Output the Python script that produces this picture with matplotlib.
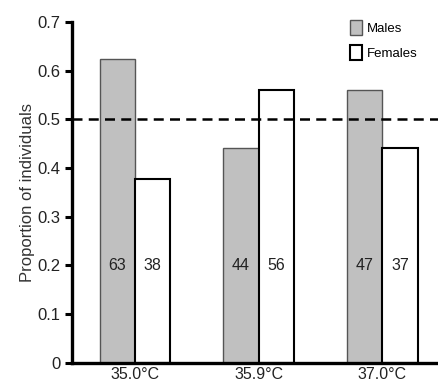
import numpy as np
import matplotlib.pyplot as plt

plt.rcParams['font.family'] = ['Liberation Sans', 'DejaVu Sans']

temps = ['35.0°C', '35.9°C', '37.0°C']
males_n = [63, 44, 47]
females_n = [38, 56, 37]

males_n = np.array(males_n)
females_n = np.array(females_n)
total = males_n + females_n
males_prop = males_n / total
females_prop = females_n / total

x = np.arange(len(temps))
w = 0.286

fig = plt.figure(figsize=(4.38, 3.83), dpi=100)
ax = fig.add_axes([0.164, 0.053, 0.836, 0.89])

ax.bar(x - w / 2, males_prop, w, color='#c0c0c0', edgecolor='#555555', linewidth=1.0, label='Males')
ax.bar(x + w / 2, females_prop, w, color='white', edgecolor='black', linewidth=1.5, label='Females')

# counts written inside the bars
for i in range(len(temps)):
    ax.text(x[i] - w / 2, 0.2, str(males_n[i]), ha='center', va='center', fontsize=11.5, color='#222222')
    ax.text(x[i] + w / 2, 0.2, str(females_n[i]), ha='center', va='center', fontsize=11.5, color='#222222')

ax.axhline(0.5, color='black', linestyle=(0, (4, 2.5)), linewidth=1.8)

ax.set_xlim(-0.51, 2.45)
ax.set_ylim(0, 0.7)
ax.set_yticks([0, 0.1, 0.2, 0.3, 0.4, 0.5, 0.6, 0.7])
ax.set_yticklabels(['0', '0.1', '0.2', '0.3', '0.4', '0.5', '0.6', '0.7'], fontsize=12, color='#222222')
ax.set_xticks(x)
ax.set_xticklabels(temps, fontsize=11.5, color='#222222')
ax.tick_params(axis='x', length=0, pad=3)
ax.tick_params(axis='y', length=5, width=2.2, pad=3)
ax.set_ylabel('Proportion of individuals', fontsize=12, color='#333333', labelpad=2)

ax.spines['top'].set_visible(False)
ax.spines['right'].set_visible(False)
ax.spines['left'].set_linewidth(2.4)
ax.spines['bottom'].set_linewidth(2.4)

fig.legend(loc='upper left', bbox_to_anchor=(0.799, 0.947), frameon=False, fontsize=9.5,
           borderpad=0, borderaxespad=0,
           handlelength=0.95, handleheight=1.3, handletextpad=0.35, labelspacing=0.8)

fig.savefig('out.png', dpi=100)
